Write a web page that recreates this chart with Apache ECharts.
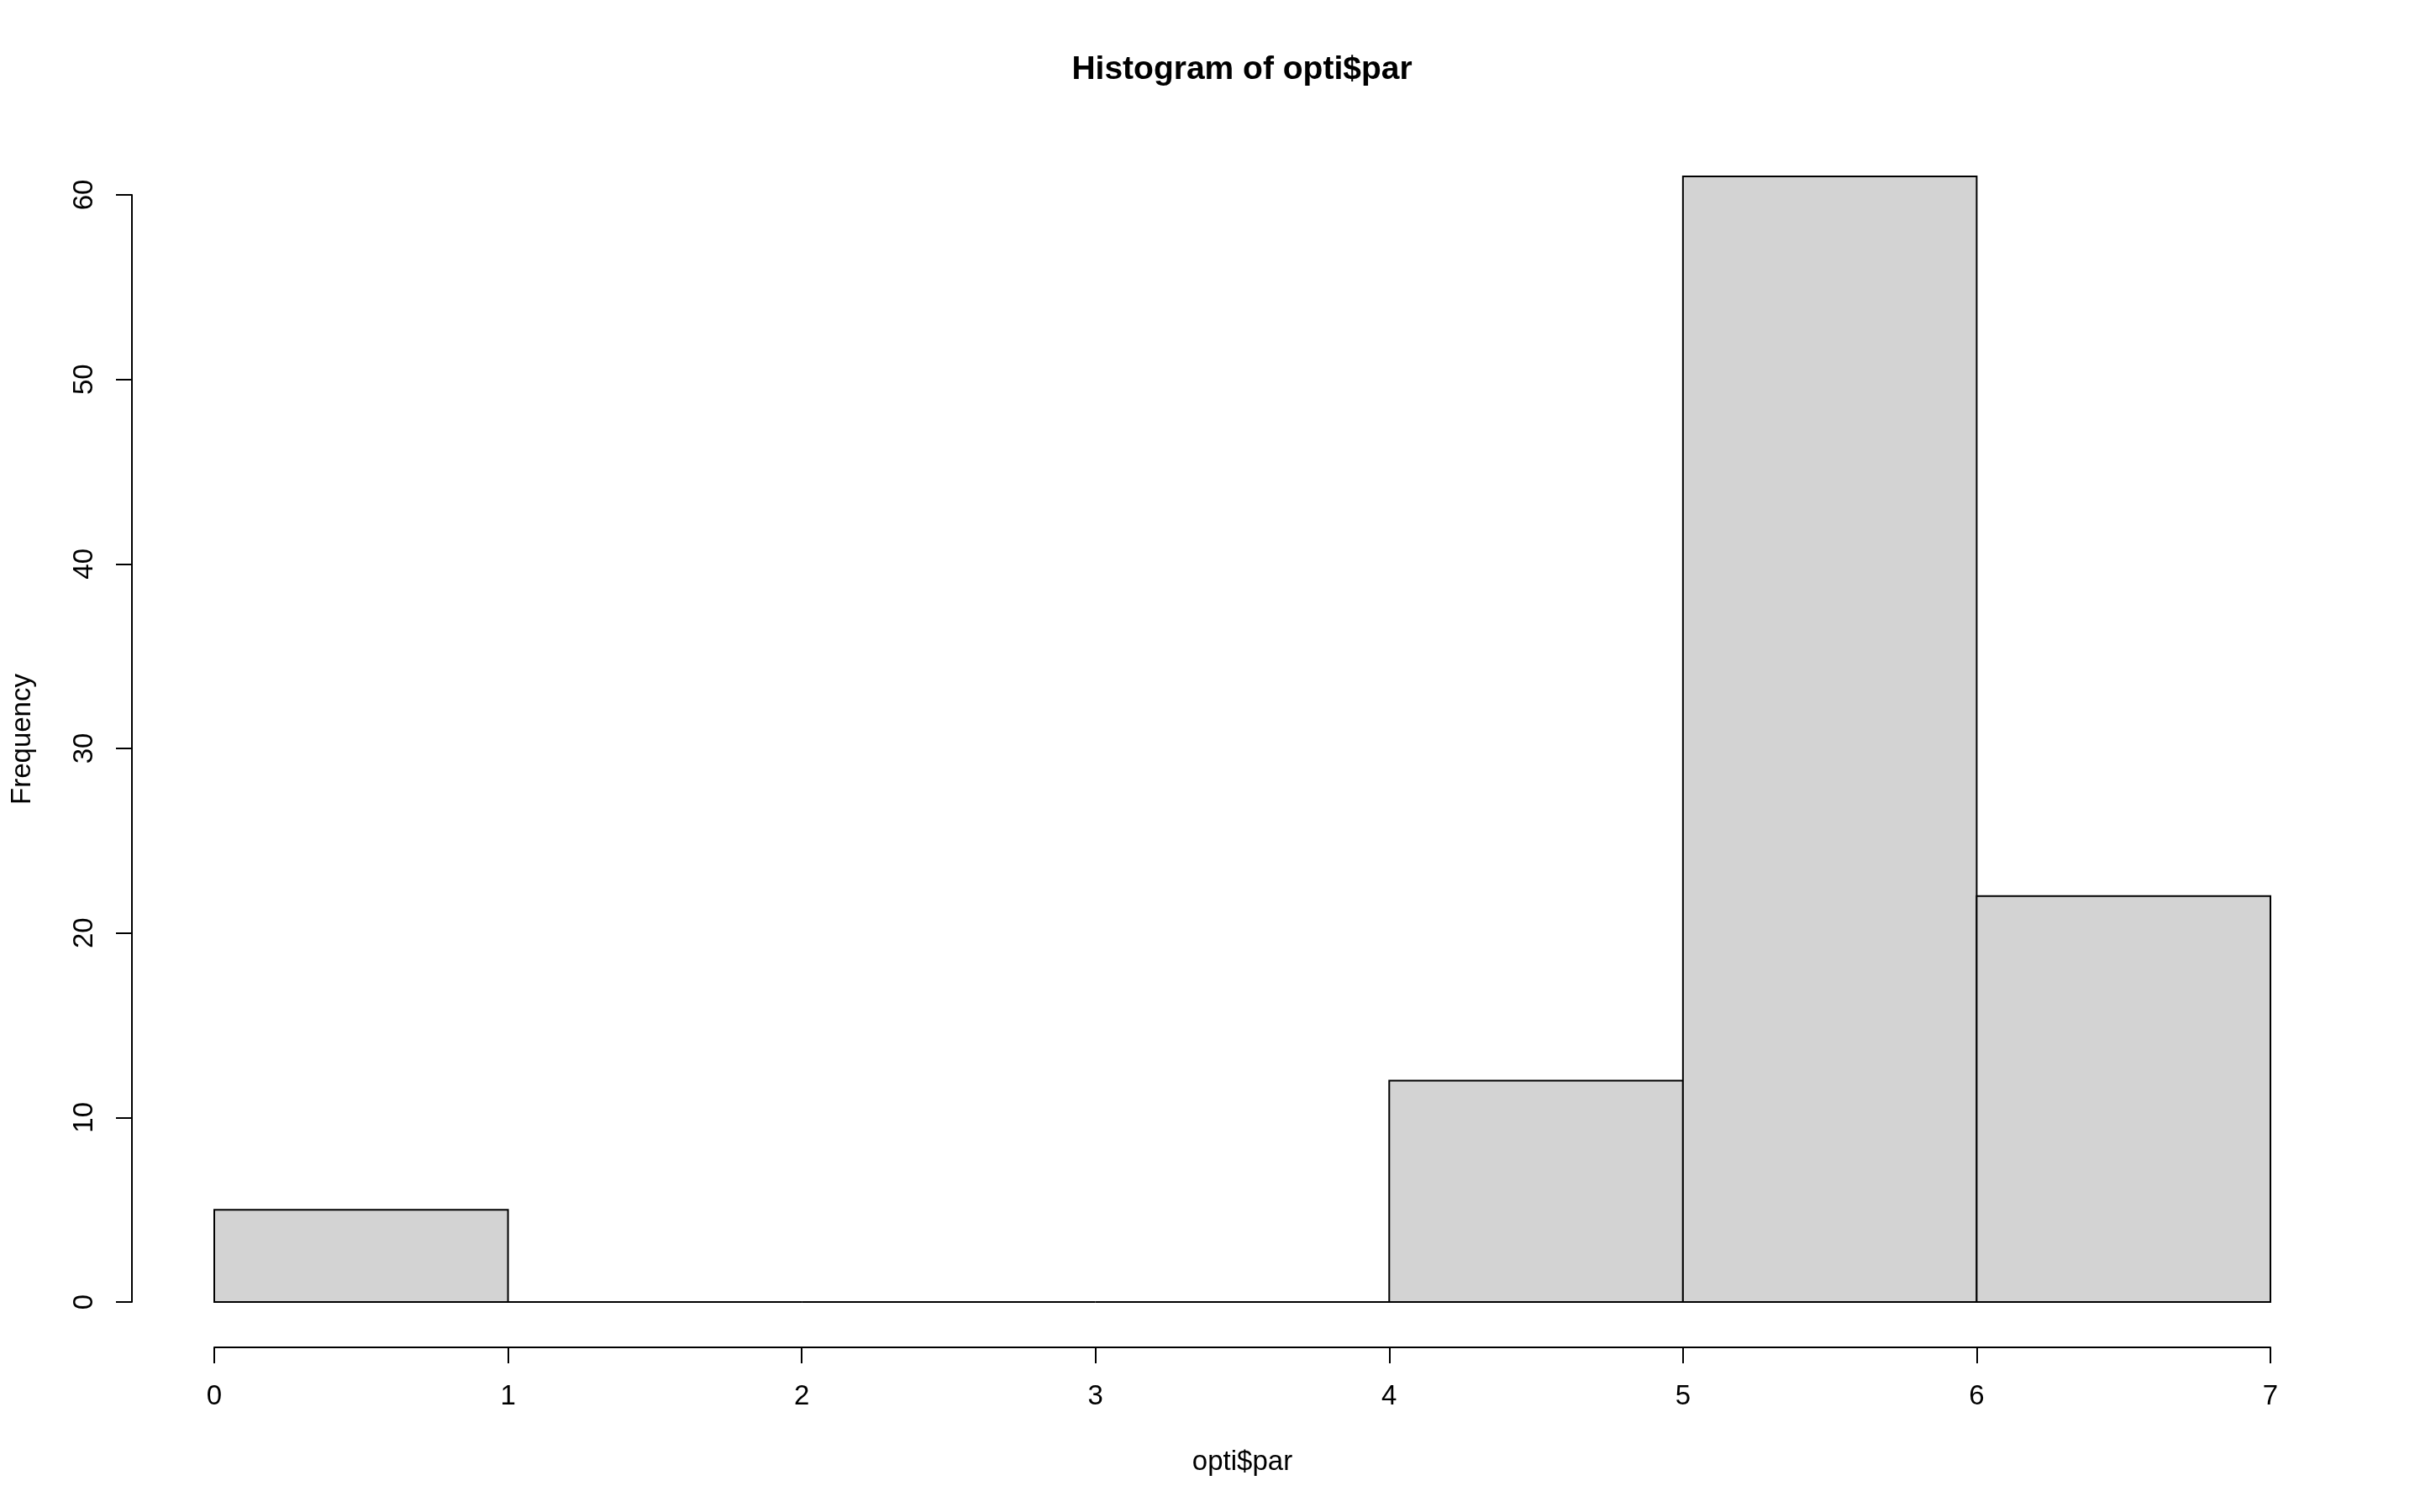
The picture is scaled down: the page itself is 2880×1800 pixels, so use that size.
<!DOCTYPE html>
<html>
<head>
<meta charset="utf-8">
<script src="https://cdn.jsdelivr.net/npm/echarts@6/dist/echarts.min.js"></script>
<style>
html,body{margin:0;padding:0;background:#fff;}
#chart{width:2880px;height:1800px;}
</style>
</head>
<body>
<div id="chart"></div>
<script>
// Histogram bins and counts
const binStarts = [0, 1, 2, 3, 4, 5, 6];
const binEnds   = [1, 2, 3, 4, 5, 6, 7];
const counts    = [5, 0, 0, 0, 12, 61, 22];
const xTicks = [0, 1, 2, 3, 4, 5, 6, 7];
const yTicks = [0, 10, 20, 30, 40, 50, 60];
const titleText = 'Histogram of opti$par';
const xName = 'opti$par';
const yName = 'Frequency';

const data = binStarts.map((s, i) => [s, binEnds[i], counts[i]]);
const FONT = '"Liberation Sans", Arial, Helvetica, sans-serif';
const FS = 33;

const chart = echarts.init(document.getElementById('chart'), null, {renderer: 'canvas'});
chart.setOption({
  backgroundColor: '#ffffff',
  animation: false,
  title: {
    text: titleText,
    left: 1478,
    top: 64,
    textAlign: 'center',
    padding: 0,
    textStyle: {fontFamily: FONT, fontSize: 39, fontWeight: 'bold', color: '#000', lineHeight: 39}
  },
  grid: {left: 255, right: 178, top: 232, bottom: 250, containLabel: false},
  xAxis: {
    type: 'value',
    min: xTicks[0], max: xTicks[xTicks.length - 1], interval: 1,
    offset: 54,
    name: xName,
    nameLocation: 'middle',
    nameGap: 120,
    nameTextStyle: {fontFamily: FONT, fontSize: FS, color: '#000', lineHeight: FS},
    axisLine: {show: true, onZero: false, lineStyle: {color: '#000', width: 2}},
    axisTick: {show: true, length: 19, lineStyle: {color: '#000', width: 2}},
    axisLabel: {fontFamily: FONT, fontSize: FS, color: '#000', margin: 42, lineHeight: FS},
    splitLine: {show: false}
  },
  yAxis: {
    type: 'value',
    min: yTicks[0], max: yTicks[yTicks.length - 1], interval: 10,
    offset: 98,
    name: yName,
    nameLocation: 'middle',
    nameGap: 114,
    nameTextStyle: {fontFamily: FONT, fontSize: FS, color: '#000', lineHeight: FS, padding: [0, 0, 0, 22]},
    axisLine: {show: true, onZero: false, lineStyle: {color: '#000', width: 2}},
    axisTick: {show: true, length: 19, lineStyle: {color: '#000', width: 2}},
    axisLabel: {fontFamily: FONT, fontSize: FS, color: '#000', margin: 40, rotate: 90, lineHeight: FS},
    splitLine: {show: false}
  },
  series: [{
    type: 'custom',
    clip: false,
    data: data,
    encode: {x: [0, 1], y: 2},
    renderItem: function (params, api) {
      const p0 = api.coord([api.value(0), 0]);
      const p1 = api.coord([api.value(1), api.value(2)]);
      return {
        type: 'rect',
        shape: {x: p0[0], y: p1[1], width: p1[0] - p0[0], height: p0[1] - p1[1]},
        style: {fill: '#D3D3D3', stroke: '#000', lineWidth: 2}
      };
    }
  }]
});
</script>
</body>
</html>
